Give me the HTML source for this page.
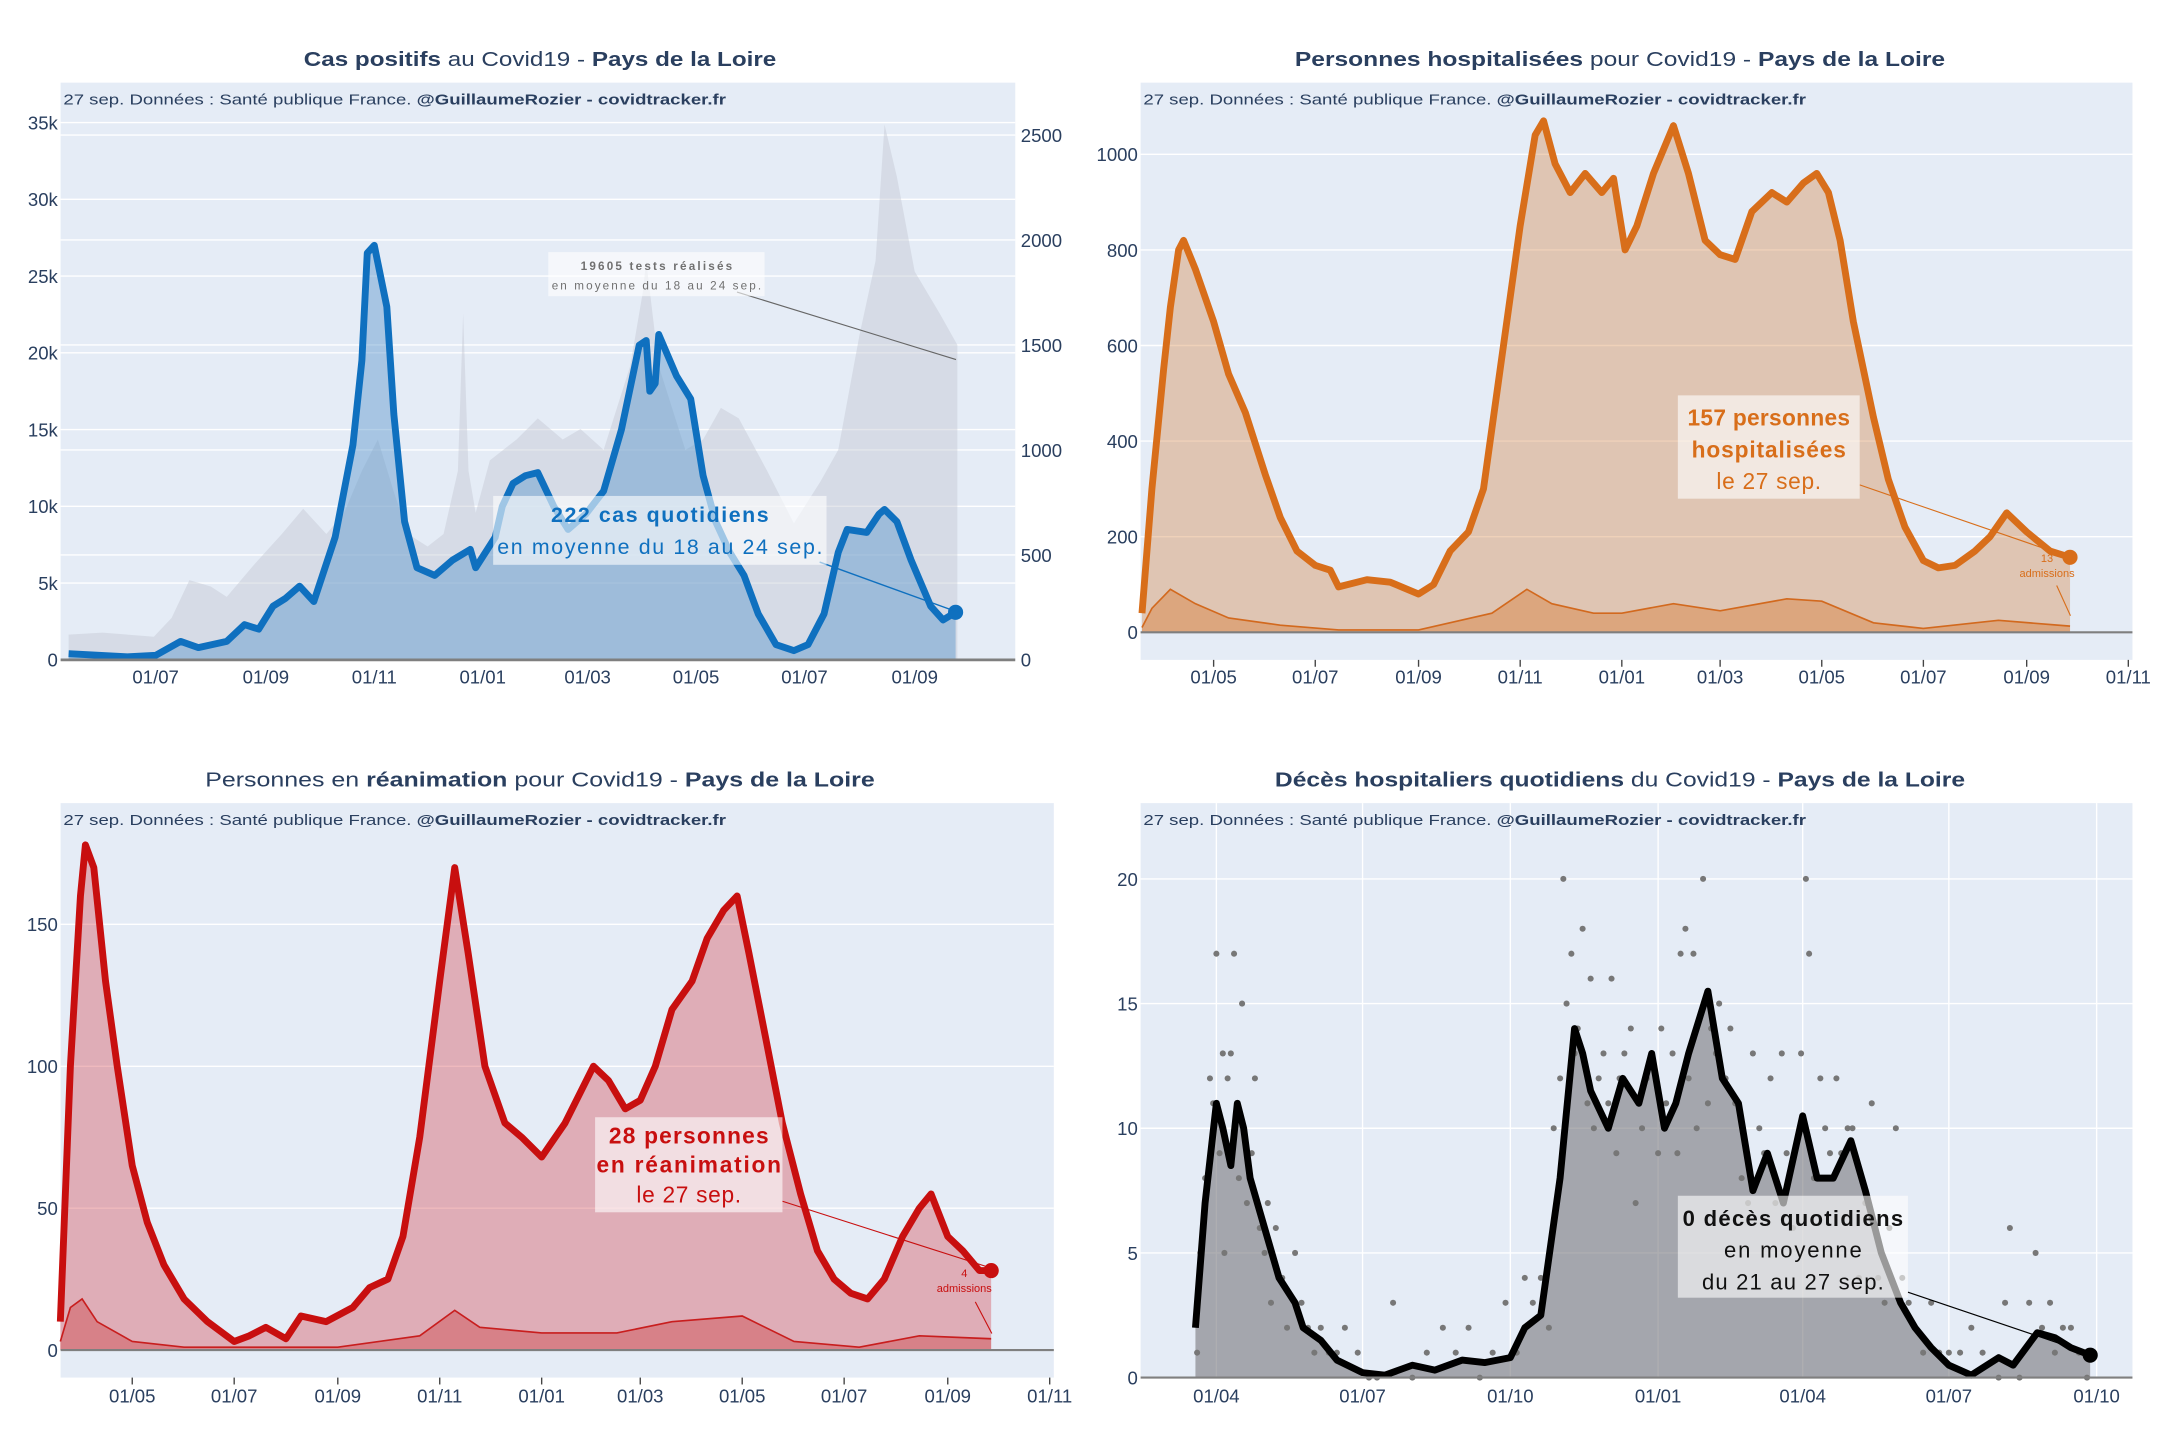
<!DOCTYPE html>
<html><head><meta charset="utf-8"><style>
html,body{margin:0;padding:0;background:#fff;}
svg{display:block;font-family:"Liberation Sans",sans-serif;}
</style></head><body>
<svg id="root" width="2160" height="1440" viewBox="0 0 1568 1045.3" preserveAspectRatio="none" xmlns="http://www.w3.org/2000/svg"></svg>
<script>
// ---------- Panel 1 data: cas positifs ----------
const casDates=["2020-05-13","2020-06-15","2020-07-01","2020-07-15","2020-07-25","2020-08-10","2020-08-20","2020-08-28","2020-09-05","2020-09-12","2020-09-20","2020-09-28","2020-10-10","2020-10-20","2020-10-25","2020-10-28","2020-11-01","2020-11-08","2020-11-12","2020-11-18","2020-11-25","2020-12-05","2020-12-15","2020-12-25","2020-12-28","2021-01-08","2021-01-12","2021-01-18","2021-01-25","2021-02-01","2021-02-10","2021-02-18","2021-02-28","2021-03-10","2021-03-20","2021-03-30","2021-04-03","2021-04-05","2021-04-08","2021-04-10","2021-04-20","2021-04-28","2021-05-05","2021-05-12","2021-05-20","2021-05-28","2021-06-05","2021-06-15","2021-06-25","2021-07-03","2021-07-12","2021-07-20","2021-07-25","2021-08-05","2021-08-12","2021-08-15","2021-08-22","2021-08-30","2021-09-10","2021-09-17","2021-09-24"];
const casVals=[0.4,0.2,0.3,1.2,0.8,1.2,2.3,2.0,3.5,4.0,4.8,3.8,8,14,19.5,26.5,27,23,16,9,6,5.5,6.5,7.2,6,8,10,11.5,12,12.2,10,8.5,9.5,11,15,20.5,20.8,17.5,18,21.2,18.5,17,12,9,7,5.5,3,1,0.6,1,3,7,8.5,8.3,9.5,9.8,9,6.5,3.5,2.6,3.1];
const testDates=["2020-05-13","2020-06-01","2020-06-30","2020-07-10","2020-07-20","2020-08-01","2020-08-10","2020-08-25","2020-09-10","2020-09-22","2020-10-05","2020-10-15","2020-10-25","2020-11-03","2020-11-12","2020-11-20","2020-12-01","2020-12-10","2020-12-18","2020-12-21","2020-12-24","2020-12-28","2021-01-05","2021-01-20","2021-02-01","2021-02-15","2021-02-25","2021-03-10","2021-03-25","2021-04-01","2021-04-03","2021-04-10","2021-04-25","2021-05-05","2021-05-15","2021-05-25","2021-06-10","2021-06-25","2021-07-10","2021-07-20","2021-08-01","2021-08-10","2021-08-15","2021-08-22","2021-09-01","2021-09-15","2021-09-25"];
const testVals=[120,130,110,200,380,350,300,450,600,720,600,700,900,1050,800,600,540,600,900,1650,900,700,950,1050,1150,1050,1100,1000,1400,1750,1900,1400,1000,1050,1200,1150,900,650,850,1000,1550,1900,2550,2300,1850,1650,1500];
const p1Ticks=["2020-07-01","2020-09-01","2020-11-01","2021-01-01","2021-03-01","2021-05-01","2021-07-01","2021-09-01"];
const p1Labels=["01/07","01/09","01/11","01/01","01/03","01/05","01/07","01/09"];
const p1Left=[0,5,10,15,20,25,30,35];
const p1Right=[0,500,1000,1500,2000,2500];
// ---------- Panel 2 data: hospitalisés ----------
const hospDates=["2020-03-19","2020-03-25","2020-04-01","2020-04-05","2020-04-10","2020-04-13","2020-04-20","2020-05-01","2020-05-10","2020-05-20","2020-06-01","2020-06-10","2020-06-20","2020-07-01","2020-07-10","2020-07-15","2020-08-01","2020-08-15","2020-09-01","2020-09-10","2020-09-20","2020-10-01","2020-10-10","2020-10-20","2020-11-01","2020-11-10","2020-11-15","2020-11-22","2020-12-01","2020-12-10","2020-12-20","2020-12-27","2021-01-03","2021-01-10","2021-01-20","2021-02-01","2021-02-10","2021-02-20","2021-03-01","2021-03-10","2021-03-20","2021-04-01","2021-04-10","2021-04-20","2021-04-28","2021-05-05","2021-05-12","2021-05-20","2021-06-01","2021-06-10","2021-06-20","2021-07-01","2021-07-10","2021-07-20","2021-08-01","2021-08-10","2021-08-20","2021-09-01","2021-09-15","2021-09-27"];
const hospVals=[40,300,550,680,800,820,760,650,540,460,330,240,170,140,130,95,110,105,80,100,170,210,300,550,850,1040,1070,980,920,960,920,950,800,850,960,1060,960,820,790,780,880,920,900,940,960,920,820,650,450,320,220,150,135,140,170,200,250,210,170,157];
const hospAdmDates=["2020-03-19","2020-03-25","2020-04-05","2020-04-20","2020-05-10","2020-06-10","2020-07-15","2020-09-01","2020-10-15","2020-11-05","2020-11-20","2020-12-15","2021-01-01","2021-02-01","2021-03-01","2021-04-10","2021-05-01","2021-06-01","2021-07-01","2021-08-15","2021-09-27"];
const hospAdmVals=[10,50,90,60,30,15,5,5,40,90,60,40,40,60,45,70,65,20,8,25,13];
const p2Ticks=["2020-05-01","2020-07-01","2020-09-01","2020-11-01","2021-01-01","2021-03-01","2021-05-01","2021-07-01","2021-09-01","2021-11-01"];
const p2Labels=["01/05","01/07","01/09","01/11","01/01","01/03","01/05","01/07","01/09","01/11"];
const p2Y=[0,200,400,600,800,1000];
// ---------- Panel 3 data: réanimation ----------
const reaDates=["2020-03-19","2020-03-25","2020-03-31","2020-04-03","2020-04-08","2020-04-15","2020-04-22","2020-05-01","2020-05-10","2020-05-20","2020-06-01","2020-06-15","2020-07-01","2020-07-10","2020-07-20","2020-08-01","2020-08-10","2020-08-25","2020-09-10","2020-09-20","2020-10-01","2020-10-10","2020-10-20","2020-11-01","2020-11-10","2020-11-18","2020-11-28","2020-12-10","2020-12-20","2021-01-01","2021-01-15","2021-02-01","2021-02-10","2021-02-20","2021-03-01","2021-03-10","2021-03-20","2021-04-01","2021-04-10","2021-04-20","2021-04-28","2021-05-05","2021-05-15","2021-05-25","2021-06-05","2021-06-15","2021-06-25","2021-07-05","2021-07-15","2021-07-25","2021-08-05","2021-08-15","2021-08-22","2021-09-01","2021-09-10","2021-09-20","2021-09-27"];
const reaVals=[10,100,160,178,170,130,100,65,45,30,18,10,3,5,8,4,12,10,15,22,25,40,75,130,170,140,100,80,75,68,80,100,95,85,88,100,120,130,145,155,160,140,110,80,55,35,25,20,18,25,40,50,55,40,35,28,28];
const reaAdmDates=["2020-03-19","2020-03-25","2020-04-01","2020-04-10","2020-05-01","2020-06-01","2020-09-01","2020-10-20","2020-11-10","2020-11-25","2021-01-01","2021-02-15","2021-03-20","2021-05-01","2021-06-01","2021-07-10","2021-08-15","2021-09-27"];
const reaAdmVals=[3,15,18,10,3,1,1,5,14,8,6,6,10,12,3,1,5,4];
const p3Ticks=p2Ticks;
const p3Labels=p2Labels;
const p3Y=[0,50,100,150];
// ---------- Panel 4 data: décès ----------
const decDates=["2020-03-19","2020-03-25","2020-04-01","2020-04-05","2020-04-10","2020-04-14","2020-04-18","2020-04-22","2020-05-01","2020-05-10","2020-05-20","2020-05-25","2020-06-05","2020-06-15","2020-07-01","2020-07-15","2020-08-01","2020-08-15","2020-09-01","2020-09-15","2020-10-01","2020-10-10","2020-10-20","2020-11-01","2020-11-10","2020-11-15","2020-11-20","2020-12-01","2020-12-10","2020-12-20","2020-12-28","2021-01-05","2021-01-12","2021-01-20","2021-02-01","2021-02-10","2021-02-20","2021-03-01","2021-03-10","2021-03-20","2021-04-01","2021-04-10","2021-04-20","2021-05-01","2021-05-10","2021-05-20","2021-06-01","2021-06-10","2021-06-20","2021-07-01","2021-07-15","2021-08-01","2021-08-10","2021-08-25","2021-09-05","2021-09-15","2021-09-27"];
const decVals=[2,7,11,10,8.5,11,10,8,6,4,3,2,1.5,0.7,0.2,0.1,0.5,0.3,0.7,0.6,0.8,2,2.5,8,14,13,11.5,10,12,11,13,10,11,13,15.5,12,11,7.5,9,7,10.5,8,8,9.5,7.5,5,3,2,1.2,0.5,0.1,0.8,0.5,1.8,1.6,1.2,0.9];
const dotDates=["2020-03-20","2020-03-22","2020-03-25","2020-03-28","2020-03-30","2020-04-01","2020-04-03","2020-04-05","2020-04-06","2020-04-08","2020-04-10","2020-04-12","2020-04-15","2020-04-17","2020-04-20","2020-04-23","2020-04-25","2020-04-28","2020-05-01","2020-05-03","2020-05-05","2020-05-08","2020-05-12","2020-05-15","2020-05-20","2020-05-24","2020-05-28","2020-06-01","2020-06-05","2020-06-10","2020-06-15","2020-06-20","2020-06-28","2020-07-05","2020-07-10","2020-07-20","2020-08-01","2020-08-10","2020-08-20","2020-08-28","2020-09-05","2020-09-12","2020-09-20","2020-09-28","2020-10-05","2020-10-10","2020-10-15","2020-10-20","2020-10-25","2020-10-28","2020-11-01","2020-11-03","2020-11-05","2020-11-08","2020-11-10","2020-11-12","2020-11-15","2020-11-18","2020-11-20","2020-11-22","2020-11-25","2020-11-28","2020-12-01","2020-12-03","2020-12-06","2020-12-08","2020-12-11","2020-12-15","2020-12-18","2020-12-22","2020-12-25","2020-12-28","2021-01-01","2021-01-03","2021-01-06","2021-01-10","2021-01-13","2021-01-15","2021-01-18","2021-01-20","2021-01-23","2021-01-25","2021-01-29","2021-02-01","2021-02-03","2021-02-06","2021-02-08","2021-02-12","2021-02-15","2021-02-18","2021-02-22","2021-02-26","2021-03-01","2021-03-05","2021-03-08","2021-03-12","2021-03-15","2021-03-19","2021-03-22","2021-03-26","2021-03-31","2021-04-03","2021-04-05","2021-04-08","2021-04-12","2021-04-15","2021-04-18","2021-04-22","2021-04-25","2021-04-29","2021-05-02","2021-05-06","2021-05-10","2021-05-14","2021-05-18","2021-05-22","2021-05-25","2021-05-29","2021-06-02","2021-06-06","2021-06-10","2021-06-15","2021-06-20","2021-06-25","2021-07-01","2021-07-08","2021-07-15","2021-07-22","2021-08-01","2021-08-05","2021-08-08","2021-08-14","2021-08-20","2021-08-24","2021-08-28","2021-09-02","2021-09-05","2021-09-10","2021-09-15","2021-09-20","2021-09-25"];
const dotVals=[1,5,8,12,11,17,9,13,5,12,13,17,8,15,7,9,12,6,5,7,3,6,4,2,5,3,2,1,2,1,1,2,1,0,0,3,0,1,2,1,2,0,1,3,1,4,3,4,2,10,12,20,15,17,13,14,18,11,16,10,12,13,11,16,9,12,13,14,7,10,12,13,9,14,11,13,9,17,18,12,17,10,20,11,14,13,15,12,14,11,8,7,13,10,9,12,7,13,9,6,13,20,17,8,12,10,9,12,9,10,10,4,7,11,4,3,6,10,4,3,2,1,3,1,1,1,2,1,0,3,6,0,3,5,2,3,1,2,2,1,0,1];
const p4Ticks=["2020-04-01","2020-07-01","2020-10-01","2021-01-01","2021-04-01","2021-07-01","2021-10-01"];
const p4Labels=["01/04","01/07","01/10","01/01","01/04","01/07","01/10"];
const p4Y=[0,5,10,15,20];

// ---------- helpers ----------
const NS="http://www.w3.org/2000/svg";
const root=document.getElementById('root');
function days(s){return Date.parse(s+"T00:00:00Z")/86400000;}
function mk(tag,attrs,parent){const e=document.createElementNS(NS,tag);for(const k in attrs)e.setAttribute(k,attrs[k]);(parent||root).appendChild(e);return e;}
function xs(ref,px,ppd){return s=>px+(days(s)-days(ref))*ppd;}
function ys(zero,unitPx){return v=>zero-v*unitPx;}
function pts(dates,vals,X,Y){return dates.map((d,i)=>X(d).toFixed(1)+","+Y(vals[i]).toFixed(1)).join(" ");}
function areaPts(dates,vals,X,Y,zero){return X(dates[0]).toFixed(1)+","+zero+" "+pts(dates,vals,X,Y)+" "+X(dates[dates.length-1]).toFixed(1)+","+zero;}
function txt(x,y,s,opts,parent){const t=mk('text',Object.assign({x:x,y:y,'font-size':12,fill:'#2a3f5f'},opts||{}),parent);t.textContent=s;return t;}
function title(cx,y,w,parts,name){const t=mk('text',{x:cx,y:y,'text-anchor':'middle','font-size':15,fill:'#2a3f5f',textLength:w,lengthAdjust:'spacingAndGlyphs'});parts.forEach(p=>{const s=mk('tspan',{'font-weight':p[1]?'bold':'normal'},t);s.textContent=p[0];});}
function credit(x,y,name){const t=mk('text',{x:x,y:y,'font-size':11,fill:'#2a3f5f',textLength:481,lengthAdjust:'spacingAndGlyphs'});const a=mk('tspan',{},t);a.textContent="27 sep. Données : Santé publique France. ";const b=mk('tspan',{'font-weight':'bold'},t);b.textContent="@GuillaumeRozier - covidtracker.fr";}
function note(x,y,w,h,lines,color,name){const g=mk('g',{});mk('rect',{x:x,y:y,width:w,height:h,fill:'rgba(255,255,255,0.6)'},g);lines.forEach((l,i)=>{const o={'text-anchor':'middle','font-size':l[3],'font-weight':l[1]?'bold':'normal',fill:color};if(l[4])o.textLength=l[4];txt(x+w/2,y+l[2],l[0],o,g);});return g;}

// ================= PANEL 1 =================
(function(){
const X=xs("2020-07-01",113,(664-113)/427), YL=ys(479,390/35), YR=ys(479,(479-98)/2500);
const g=mk('g',{});
const bg=mk('rect',{x:44,y:60,width:693,height:419,fill:'#e5ecf6'},g);
p1Right.forEach(v=>{if(v>0)mk('line',{x1:44,x2:737,y1:YR(v),y2:YR(v),stroke:'#fff','stroke-width':1},g);});
p1Left.forEach(v=>{if(v>0)mk('line',{x1:44,x2:737,y1:YL(v),y2:YL(v),stroke:'#fff','stroke-width':1},g);});
const ta=mk('polygon',{points:areaPts(testDates,testVals,X,YR,479),fill:'rgba(195,200,210,0.45)'},g);
const ca=mk('polygon',{points:areaPts(casDates,casVals,X,YL,479),fill:'rgba(90,150,205,0.45)'},g);
const cl=mk('polyline',{points:pts(casDates,casVals,X,YL),fill:'none',stroke:'#0f70bf','stroke-width':5,'stroke-linejoin':'round'},g);
const last=casDates.length-1;
const cm=mk('circle',{cx:X(casDates[last]),cy:YL(casVals[last]),r:5.5,fill:'#0f70bf'},g);
mk('line',{x1:44,x2:737,y1:479,y2:479,stroke:'#7f7f7f','stroke-width':2},g);
p1Left.forEach(v=>{const t=txt(42,YL(v)+5,v===0?"0":v+"k",{'text-anchor':'end','font-size':13.5},g);});
p1Right.forEach(v=>{const t=txt(741,YR(v)+5,String(v),{'font-size':13.5},g);});
p1Ticks.forEach((d,i)=>{const t=txt(X(d),496,p1Labels[i],{'text-anchor':'middle','font-size':13.5},g);});
mk('line',{x1:535,y1:212,x2:694,y2:261,stroke:'#666','stroke-width':0.8},g);
note(398,183,157,32,[["19605 tests réalisés",true,13,8.5,110],["en moyenne du 18 au 24 sep.",false,27,8.5,152]],'#707070','tests-annotation');
mk('line',{x1:595,y1:408,x2:697,y2:445,stroke:'#0f70bf','stroke-width':1},g);
note(358,360,242,50,[["222 cas quotidiens",true,19,15.5,158],["en moyenne du 18 au 24 sep.",false,42,15.5,236]],'#0f70bf','cases-annotation');
})();
title(392,48,343,[["Cas positifs",1],[" au Covid19 - ",0],["Pays de la Loire",1]],'cases-title');
credit(46,76,'cases-credit');

// ================= PANEL 2 =================
(function(){
const X=xs("2020-05-01",881,(1545-881)/549), Y=ys(459,(459-112)/1000);
const g=mk('g',{});
const bg=mk('rect',{x:828,y:60,width:720,height:419,fill:'#e5ecf6'},g);
p2Y.forEach(v=>{if(v>0)mk('line',{x1:828,x2:1548,y1:Y(v),y2:Y(v),stroke:'#fff','stroke-width':1},g);});
const a=mk('polygon',{points:areaPts(hospDates,hospVals,X,Y,459),fill:'rgba(215,140,80,0.4)'},g);
const aa=mk('polygon',{points:areaPts(hospAdmDates,hospAdmVals,X,Y,459),fill:'rgba(215,110,30,0.35)'},g);
const al=mk('polyline',{points:pts(hospAdmDates,hospAdmVals,X,Y),fill:'none',stroke:'#d2691e','stroke-width':1.2},g);
const l=mk('polyline',{points:pts(hospDates,hospVals,X,Y),fill:'none',stroke:'#d86e1a','stroke-width':5,'stroke-linejoin':'round'},g);
const n=hospDates.length-1;
const m=mk('circle',{cx:X(hospDates[n]),cy:Y(hospVals[n]),r:5.5,fill:'#d86e1a'},g);
mk('line',{x1:828,x2:1548,y1:459,y2:459,stroke:'#7f7f7f','stroke-width':1.5},g);
p2Y.forEach(v=>{const t=txt(826,Y(v)+5,String(v),{'text-anchor':'end','font-size':13.5},g);});
p2Ticks.forEach((d,i)=>{mk('line',{x1:X(d),x2:X(d),y1:479,y2:484,stroke:'#444','stroke-width':1},g);const t=txt(X(d),496,p2Labels[i],{'text-anchor':'middle','font-size':13.5},g);});
mk('line',{x1:1350,y1:352,x2:1498,y2:403,stroke:'#d86e1a','stroke-width':0.8},g);
mk('line',{x1:1493,y1:425,x2:1503,y2:447,stroke:'#d86e1a','stroke-width':0.8},g);
txt(1486,408,"13",{'text-anchor':'middle','font-size':8,fill:'#d86e1a'},g);
txt(1486,419,"admissions",{'text-anchor':'middle','font-size':8,fill:'#d86e1a'},g);
note(1218,287,132,75,[["157 personnes",true,22,16.5,118],["hospitalisées",true,45,16.5,112],["le 27 sep.",false,68,16.5,76]],'#d86e1a','hospital-annotation');
})();
title(1176,48,472,[["Personnes hospitalisées",1],[" pour Covid19 - ",0],["Pays de la Loire",1]],'hospital-title');
credit(830,76,'hospital-credit');

// ================= PANEL 3 =================
(function(){
const X=xs("2020-05-01",96,(762-96)/549), Y=ys(980,(980-671)/150);
const g=mk('g',{});
const bg=mk('rect',{x:44,y:583,width:721,height:417,fill:'#e5ecf6'},g);
p3Y.forEach(v=>{if(v>0)mk('line',{x1:44,x2:765,y1:Y(v),y2:Y(v),stroke:'#fff','stroke-width':1},g);});
const a=mk('polygon',{points:areaPts(reaDates,reaVals,X,Y,980),fill:'rgba(215,80,90,0.4)'},g);
const aa=mk('polygon',{points:areaPts(reaAdmDates,reaAdmVals,X,Y,980),fill:'rgba(200,30,30,0.3)'},g);
const al=mk('polyline',{points:pts(reaAdmDates,reaAdmVals,X,Y),fill:'none',stroke:'#c81e1e','stroke-width':1.2},g);
const l=mk('polyline',{points:pts(reaDates,reaVals,X,Y),fill:'none',stroke:'#c80f0f','stroke-width':5,'stroke-linejoin':'round'},g);
const n=reaDates.length-1;
const m=mk('circle',{cx:X(reaDates[n]),cy:Y(reaVals[n]),r:5.5,fill:'#c80f0f'},g);
mk('line',{x1:44,x2:765,y1:980,y2:980,stroke:'#7f7f7f','stroke-width':1.5},g);
p3Y.forEach(v=>{const t=txt(42,Y(v)+5,String(v),{'text-anchor':'end','font-size':13.5},g);});
p3Ticks.forEach((d,i)=>{mk('line',{x1:X(d),x2:X(d),y1:1000,y2:1005,stroke:'#444','stroke-width':1},g);const t=txt(X(d),1018,p3Labels[i],{'text-anchor':'middle','font-size':13.5},g);});
mk('line',{x1:568,y1:872,x2:718,y2:920,stroke:'#c80f0f','stroke-width':0.8},g);
mk('line',{x1:708,y1:945,x2:720,y2:968,stroke:'#c80f0f','stroke-width':0.8},g);
txt(700,927,"4",{'text-anchor':'middle','font-size':8,fill:'#c80f0f'},g);
txt(700,938,"admissions",{'text-anchor':'middle','font-size':8,fill:'#c80f0f'},g);
note(432,811,136,69,[["28 personnes",true,19,16.5,116],["en réanimation",true,40,16.5,134],["le 27 sep.",false,62,16.5,76]],'#c80f0f','icu-annotation');
})();
title(392,571,486,[["Personnes en ",0],["réanimation",1],[" pour Covid19 - ",0],["Pays de la Loire",1]],'icu-title');
credit(46,599,'icu-credit');

// ================= PANEL 4 =================
(function(){
const X=xs("2020-04-01",883,(1522-883)/548), Y=ys(1000,(1000-638)/20);
const g=mk('g',{});
const bg=mk('rect',{x:828,y:583,width:720,height:417,fill:'#e5ecf6'},g);
p4Y.forEach(v=>{if(v>0)mk('line',{x1:828,x2:1548,y1:Y(v),y2:Y(v),stroke:'#fff','stroke-width':1},g);});
p4Ticks.forEach(d=>{mk('line',{x1:X(d),x2:X(d),y1:583,y2:1000,stroke:'#fff','stroke-width':1},g);});
const a=mk('polygon',{points:areaPts(decDates,decVals,X,Y,1000),fill:'rgba(120,120,125,0.6)'},g);
dotDates.forEach((d,i)=>{const c=mk('circle',{cx:X(d),cy:Y(dotVals[i]),r:2.2,fill:'#777'},g);});
const l=mk('polyline',{points:pts(decDates,decVals,X,Y),fill:'none',stroke:'#000','stroke-width':5,'stroke-linejoin':'round'},g);
const n=decDates.length-1;
const m=mk('circle',{cx:X(decDates[n]),cy:Y(decVals[n]),r:5.5,fill:'#000'},g);
mk('line',{x1:828,x2:1548,y1:1000,y2:1000,stroke:'#7f7f7f','stroke-width':1.5},g);
p4Y.forEach(v=>{const t=txt(826,Y(v)+5,String(v),{'text-anchor':'end','font-size':13.5},g);});
p4Ticks.forEach((d,i)=>{const t=txt(X(d),1018,p4Labels[i],{'text-anchor':'middle','font-size':13.5},g);});
mk('line',{x1:1385,y1:938,x2:1518,y2:983,stroke:'#000','stroke-width':0.8},g);
note(1218,868,167,74,[["0 décès quotidiens",true,22,16,160],["en moyenne",false,45,16,100],["du 21 au 27 sep.",false,68,16,132]],'#111','deaths-annotation');
})();
title(1176,571,501,[["Décès hospitaliers quotidiens",1],[" du Covid19 - ",0],["Pays de la Loire",1]],'deaths-title');
credit(830,599,'deaths-credit');
</script>
</body></html>
